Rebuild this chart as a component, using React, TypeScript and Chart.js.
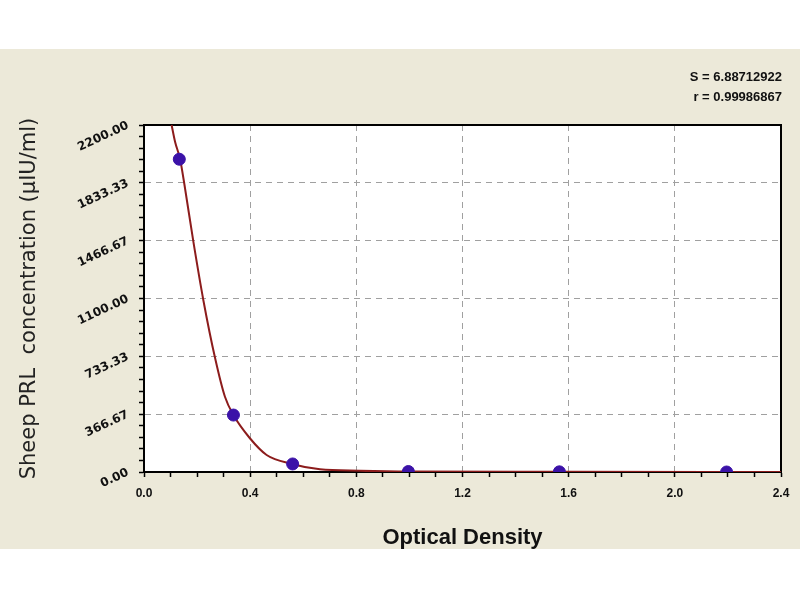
import { useEffect, useRef } from "react";
import { Chart, registerables } from "chart.js";

Chart.register(...registerables);

// standards (optical density vs concentration)
const standardOD = [0.133, 0.337, 0.56, 0.996, 1.565, 2.195];
const standardConc = [1983, 361, 51, 3, 1, 0];

// fitted curve
const curveOD = [0.104, 0.117, 0.136, 0.152, 0.186, 0.224, 0.268, 0.305, 0.337, 0.399, 0.462, 0.557, 0.663, 0.814, 1.0, 1.6, 2.4];
const curveConc = [2200, 2094, 1983, 1826, 1460, 1086, 721, 477, 361, 214, 108, 51, 17, 8, 3, 1, 0];

const xMajorTicks = [0, 0.4, 0.8, 1.2, 1.6, 2.0, 2.4];
const xTickLabels = ["0.0", "0.4", "0.8", "1.2", "1.6", "2.0", "2.4"];
const xMinorPerMajor = 4;

const yMajorTicks = [0, 366.67, 733.33, 1100, 1466.67, 1833.33, 2200];
const yTickLabels = ["0.00", "366.67", "733.33", "1100.00", "1466.67", "1833.33", "2200.00"];
const yMinorPerMajor = 5;

const fitStats = ["S = 6.88712922", "r = 0.99986867"];

const withMinor = (majors: number[], parts: number) => {
  const out: number[] = [];
  for (let i = 0; i < majors.length - 1; i++) {
    const step = (majors[i + 1] - majors[i]) / parts;
    for (let k = 0; k < parts; k++) out.push(majors[i] + k * step);
  }
  out.push(majors[majors.length - 1]);
  return out;
};

const frame = {
  id: "frame",
  beforeDraw(chart: any) {
    const { ctx, chartArea: a } = chart;
    ctx.save();
    ctx.fillStyle = "#ffffff";
    ctx.fillRect(a.left, a.top, a.right - a.left, a.bottom - a.top);
    ctx.restore();
  },
  beforeDatasetsDraw(chart: any) {
    const { ctx, chartArea: a } = chart;
    ctx.save();
    ctx.strokeStyle = "#000";
    ctx.lineWidth = 2;
    ctx.strokeRect(a.left, a.top, a.right - a.left, a.bottom - a.top);
    ctx.restore();
  },
  afterDraw(chart: any) {
    const { ctx } = chart;
    ctx.save();
    ctx.font = 'bold 13px "Liberation Sans"';
    ctx.fillStyle = "#111";
    ctx.textAlign = "right";
    ctx.textBaseline = "middle";
    fitStats.forEach((t, i) => ctx.fillText(t, 782, 28 + i * 20));
    ctx.restore();
  },
};

export default function App() {
  const canvasRef = useRef<HTMLCanvasElement>(null);

  useEffect(() => {
    document.body.style.margin = "0";
    const chart = new Chart(canvasRef.current!, {
      type: "scatter",
      data: {
        datasets: [
          {
            type: "scatter",
            data: standardOD.map((x, i) => ({ x, y: standardConc[i] })),
            pointRadius: 6,
            pointHoverRadius: 6,
            backgroundColor: "#3b12a8",
            borderColor: "#3b12a8",
          },
          {
            type: "line",
            data: curveOD.map((x, i) => ({ x, y: curveConc[i] })),
            borderColor: "#8c1c1c",
            borderWidth: 2,
            pointRadius: 0,
            fill: false,
            tension: 0.4,
            cubicInterpolationMode: "monotone",
          },
        ],
      },
      options: {
        responsive: false,
        animation: false,
        layout: { padding: { top: 76, right: 19, bottom: 0, left: 0 } },
        plugins: { legend: { display: false }, tooltip: { enabled: false } },
        scales: {
          x: {
            type: "linear",
            min: 0,
            max: 2.4,
            afterBuildTicks: (s: any) => {
              s.ticks = withMinor(xMajorTicks, xMinorPerMajor).map((value) => ({ value }));
            },
            afterFit: (s: any) => {
              s.height = 77;
            },
            ticks: {
              autoSkip: false,
              maxRotation: 0,
              minRotation: 0,
              padding: 9,
              color: "#111",
              font: { family: '"Liberation Sans"', weight: "bold", size: 12 },
              callback: (_v: any, i: number) => (i % xMinorPerMajor === 0 ? xTickLabels[i / xMinorPerMajor] : ""),
            },
            grid: {
              color: (c: any) =>
                c.index % xMinorPerMajor === 0 && c.index > 0 && c.index < xMajorTicks.length * xMinorPerMajor - xMinorPerMajor
                  ? "#a0a0a0"
                  : "rgba(0,0,0,0)",
              tickColor: "#000",
              tickLength: 5,
              tickWidth: 1.5,
              lineWidth: 1,
            },
            border: { color: "#000", width: 2, dash: [6, 5] },
            title: {
              display: true,
              text: "Optical Density",
              color: "#111",
              font: { family: '"Liberation Sans"', weight: "bold", size: 22, lineHeight: 1 },
              padding: { top: 0, bottom: 0 },
            },
          },
          y: {
            type: "linear",
            min: 0,
            max: 2200,
            afterBuildTicks: (s: any) => {
              s.ticks = withMinor(yMajorTicks, yMinorPerMajor).map((value) => ({ value }));
            },
            afterFit: (s: any) => {
              s.width = 144;
            },
            ticks: {
              autoSkip: false,
              minRotation: 25,
              maxRotation: 25,
              padding: 11,
              color: "#111",
              font: { family: '"DejaVu Sans"', weight: "bold", size: 12 },
              callback: (_v: any, i: number) => (i % yMinorPerMajor === 0 ? yTickLabels[i / yMinorPerMajor] : ""),
            },
            grid: {
              color: (c: any) =>
                c.index % yMinorPerMajor === 0 && c.index > 0 && c.index < (yMajorTicks.length - 1) * yMinorPerMajor
                  ? "#a0a0a0"
                  : "rgba(0,0,0,0)",
              tickColor: "#000",
              tickLength: 5,
              tickWidth: 1.5,
              lineWidth: 1,
            },
            border: { color: "#000", width: 2, dash: [6, 5] },
            title: {
              display: true,
              text: "Sheep PRL  concentration (\u03bcIU/ml)",
              color: "#222",
              font: { family: '"DejaVu Sans"', size: 21, lineHeight: 1 },
              padding: { top: 19, bottom: 0 },
            },
          },
        },
      },
      plugins: [frame],
    });
    return () => chart.destroy();
  }, []);

  return (
    <div style={{ position: "relative", width: 800, height: 600, background: "#ffffff" }}>
      <div style={{ position: "absolute", left: 0, top: 49, width: 800, height: 500, background: "#ece9d9" }}>
        <canvas ref={canvasRef} width={800} height={500} style={{ display: "block" }} />
      </div>
    </div>
  );
}
